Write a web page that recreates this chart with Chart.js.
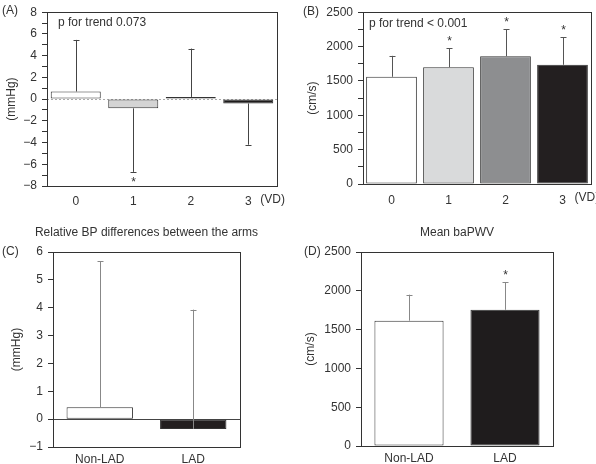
<!DOCTYPE html>
<html>
<head>
<meta charset="utf-8">
<script src="https://cdn.jsdelivr.net/npm/chart.js@4.4.0/dist/chart.umd.min.js"></script>
<style>
  body { margin: 0; background: #fff; }
  canvas { position: absolute; }
</style>
</head>
<body>
<canvas id="chartA" width="292" height="215" style="left:0;top:0"></canvas>
<canvas id="chartB" width="300" height="215" style="left:296px;top:0"></canvas>
<canvas id="chartC" width="296" height="244" style="left:0;top:220px"></canvas>
<canvas id="chartD" width="300" height="244" style="left:296px;top:220px"></canvas>
<script>
// data
const vdLabels = ['0', '1', '2', '3'];
const bpDiffVD = [0.7, -0.85, 0.2, -0.4];
const bpDiffVDWhisker = [5.45, -6.7, 4.65, -4.2];
const bpDiffVDStar = [false, true, false, false];

const pwvVD = [1560, 1700, 1860, 1735];
const pwvVDWhisker = [1865, 1975, 2250, 2135];
const pwvVDStar = [false, true, true, true];

const groupLabels = ['Non-LAD', 'LAD'];
const bpDiffLAD = [0.43, -0.35];
const bpDiffLADWhisker = [5.67, 3.93];
const bpDiffLADStar = [false, false];

const pwvLAD = [1615, 1755];
const pwvLADWhisker = [1950, 2110];
const pwvLADStar = [false, true];

Chart.defaults.font.family = '"Liberation Sans", Arial, sans-serif';
Chart.defaults.font.size = 12;
Chart.defaults.color = '#333';

function fmt(v) {
  return v < 0 ? '\u2212' + Math.abs(v) : String(v);
}

// error bars, stars, frame and free text
function extras(p) {
  return {
    id: 'extras',
    beforeDatasetsDraw(chart) {
      if (!p.zeroLine) return;
      const ctx = chart.ctx, a = chart.chartArea;
      const y0 = chart.scales.y.getPixelForValue(0);
      ctx.save();
      ctx.strokeStyle = p.zeroLine === 'dotted' ? '#aaa' : '#444';
      ctx.lineWidth = 1;
      if (p.zeroLine === 'dotted') ctx.setLineDash([2, 2]);
      ctx.beginPath();
      ctx.moveTo(a.left, Math.round(y0) + 0.5);
      ctx.lineTo(a.right, Math.round(y0) + 0.5);
      ctx.stroke();
      ctx.restore();
    },
    afterDatasetsDraw(chart) {
      const ctx = chart.ctx, a = chart.chartArea, ys = chart.scales.y;
      ctx.save();
      ctx.strokeStyle = p.errColor;
      ctx.lineWidth = 1;
      chart.getDatasetMeta(0).data.forEach((bar, i) => {
        const x = Math.round(bar.x) + 0.5;
        const yv = ys.getPixelForValue(p.values[i]);
        const yw = ys.getPixelForValue(p.whisker[i]);
        ctx.beginPath();
        ctx.moveTo(x, yv);
        ctx.lineTo(x, yw);
        ctx.moveTo(x - 3, Math.round(yw) + 0.5);
        ctx.lineTo(x + 3, Math.round(yw) + 0.5);
        ctx.stroke();
        if (p.stars[i]) {
          const dir = yw < yv ? -1 : 1;
          ctx.fillStyle = '#333';
          ctx.font = '12px "Liberation Sans", Arial, sans-serif';
          ctx.textAlign = 'center';
          ctx.textBaseline = 'middle';
          ctx.fillText('*', x, yw + dir * 9 + 2);
        }
      });
      ctx.strokeStyle = '#333';
      ctx.strokeRect(Math.round(a.left) + 0.5, Math.round(a.top) + 0.5,
        Math.round(a.right - a.left), Math.round(a.bottom - a.top));
      ctx.fillStyle = '#333';
      ctx.font = '12px "Liberation Sans", Arial, sans-serif';
      ctx.textBaseline = 'middle';
      p.texts.forEach(t => {
        ctx.textAlign = t.align || 'left';
        ctx.fillText(t.text, t.x, t.y);
      });
      if (p.title) {
        ctx.textAlign = 'center';
        ctx.fillText(p.title, (a.left + a.right) / 2, 13);
      }
      if (p.unitAfterLast) {
        const xs = chart.scales.x;
        ctx.textAlign = 'left';
        ctx.fillText(p.unitAfterLast, xs.getPixelForValue(p.labels.length - 1) + 12, a.bottom + 14);
      }
      ctx.restore();
    }
  };
}

function makePanel(id, p) {
  const el = document.getElementById(id);
  const W = el.width, H = el.height;
  const box = p.box; // plot area: left, top, right, bottom
  return new Chart(el, {
    type: 'bar',
    data: {
      labels: p.labels,
      datasets: [{
        data: p.values,
        backgroundColor: p.colors,
        borderColor: '#333',
        borderWidth: 1,
        borderSkipped: false,
        barPercentage: p.barPct,
        categoryPercentage: 1
      }]
    },
    options: {
      responsive: false,
      animation: false,
      layout: { padding: { left: 0, top: box[1], right: W - box[2], bottom: H - box[3] - p.xAxisH } },
      plugins: { legend: { display: false }, tooltip: { enabled: false } },
      scales: {
        x: {
          grid: { display: false, drawTicks: false },
          border: { display: false },
          ticks: { padding: p.xPad, font: { size: 12 } },
          afterFit: s => { s.height = p.xAxisH; }
        },
        y: {
          min: p.min,
          max: p.max,
          ticks: {
            stepSize: p.step,
            autoSkip: false,
            padding: 5,
            callback: v => (v % p.labelStep === 0 ? fmt(v) : '')
          },
          grid: { drawOnChartArea: false, tickLength: 5, color: '#333' },
          border: { color: '#333' },
          title: { display: true, text: p.yTitle, padding: { top: p.titlePad, bottom: 0 }, font: { size: 12 } },
          afterFit: s => { s.width = box[0]; }
        }
      }
    },
    plugins: [extras(p)]
  });
}

makePanel('chartA', {
  labels: vdLabels, values: bpDiffVD, whisker: bpDiffVDWhisker, stars: bpDiffVDStar,
  colors: ['#ffffff', '#d4d4d4', '#8a8a8a', '#1e1c1c'],
  box: [47, 10, 277, 186], xAxisH: 24, xPad: 8, barPct: 0.87,
  min: -8, max: 8, step: 1, labelStep: 2, yTitle: '(mmHg)', titlePad: 4,
  zeroLine: 'dotted', errColor: '#444', unitAfterLast: '(VD)',
  texts: [
    { text: '(A)', x: 2, y: 11 },
    { text: 'p for trend 0.073', x: 58, y: 23 }
  ]
});

makePanel('chartB', {
  labels: vdLabels, values: pwvVD, whisker: pwvVDWhisker, stars: pwvVDStar,
  colors: ['#ffffff', '#d9dadb', '#8d8e90', '#231f20'],
  box: [67, 10, 295, 184], xAxisH: 26, xPad: 9, barPct: 0.89,
  min: 0, max: 2500, step: 250, labelStep: 500, yTitle: '(cm/s)', titlePad: 9,
  zeroLine: null, errColor: '#555', unitAfterLast: '(VD)',
  texts: [
    { text: '(B)', x: 7, y: 12 },
    { text: 'p for trend < 0.001', x: 73, y: 24 }
  ]
});

makePanel('chartC', {
  labels: groupLabels, values: bpDiffLAD, whisker: bpDiffLADWhisker, stars: bpDiffLADStar,
  colors: ['#ffffff', '#231f20'],
  box: [53, 32, 240, 227], xAxisH: 17, xPad: 5, barPct: 0.71,
  min: -1, max: 6, step: 1, labelStep: 1, yTitle: '(mmHg)', titlePad: 9,
  zeroLine: 'solid', errColor: '#888', title: 'Relative BP differences between the arms',
  texts: [
    { text: '(C)', x: 2, y: 32 }
  ]
});

makePanel('chartD', {
  labels: groupLabels, values: pwvLAD, whisker: pwvLADWhisker, stars: pwvLADStar,
  colors: ['#ffffff', '#1f1c1d'],
  box: [65, 32, 257, 226], xAxisH: 18, xPad: 5, barPct: 0.72,
  min: 0, max: 2500, step: 500, labelStep: 500, yTitle: '(cm/s)', titlePad: 7,
  zeroLine: null, errColor: '#888', title: 'Mean baPWV',
  texts: [
    { text: '(D)', x: 8, y: 32 }
  ]
});
</script>
</body>
</html>
